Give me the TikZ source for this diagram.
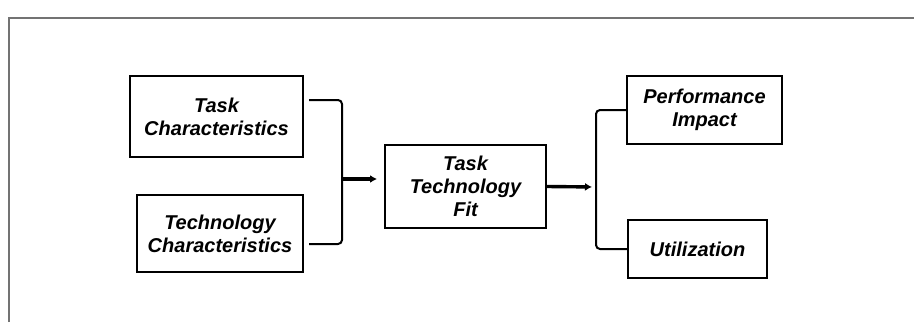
\documentclass[tikz,border=0pt]{standalone}
\usepackage{fontspec}
\setmainfont{Liberation Sans}
\usetikzlibrary{arrows.meta}

\begin{document}
\begin{tikzpicture}[x=0.5pt, y=0.5pt,
    box/.style={draw, line width=1pt, align=center, inner sep=0pt,
        font=\fontsize{10}{11.5}\selectfont\bfseries\itshape},
    link/.style={line width=1pt, rounded corners=2pt},
    flow/.style={line width=1.7pt, -{Latex[length=3.5pt,width=4pt]}}]

    \useasboundingbox (0,0) rectangle (914,322);
    \draw[black!55, line width=0.7pt] (9,0) |- (914,304);

    \node[box, minimum width=86.5pt, minimum height=40.5pt] (task) at (216.5,205.5) {Task\\Characteristics};
    \node[box, minimum width=83pt, minimum height=38.5pt] (tech) at (220,88.5) {Technology\\Characteristics};
    \node[box, minimum width=80.5pt, minimum height=41.5pt] (ttf) at (465.5,135.5) {Task\\Technology\\Fit};
    \node[box, minimum width=77.5pt, minimum height=34pt] (perf) at (704.5,212) {Performance\\Impact};
    \node[box, minimum width=69.5pt, minimum height=29pt] (util) at (697.5,73) {Utilization};

    % joins
    \coordinate (ltop) at (309,222);
    \coordinate (lbot) at (309,78);
    \coordinate (ljoin) at (342,143);
    \coordinate (rjoin) at (596,135);

    \draw[link] (ltop) -| (ljoin) |- (lbot);
    \draw[flow, shorten >=3.5pt] (ljoin) -- (ljoin -| ttf.west);
    \draw[flow, shorten >=2pt] (ttf.east) -- (rjoin);
    \draw[link] (perf.west) -| (rjoin) |- (util.west);

\end{tikzpicture}
\end{document}
